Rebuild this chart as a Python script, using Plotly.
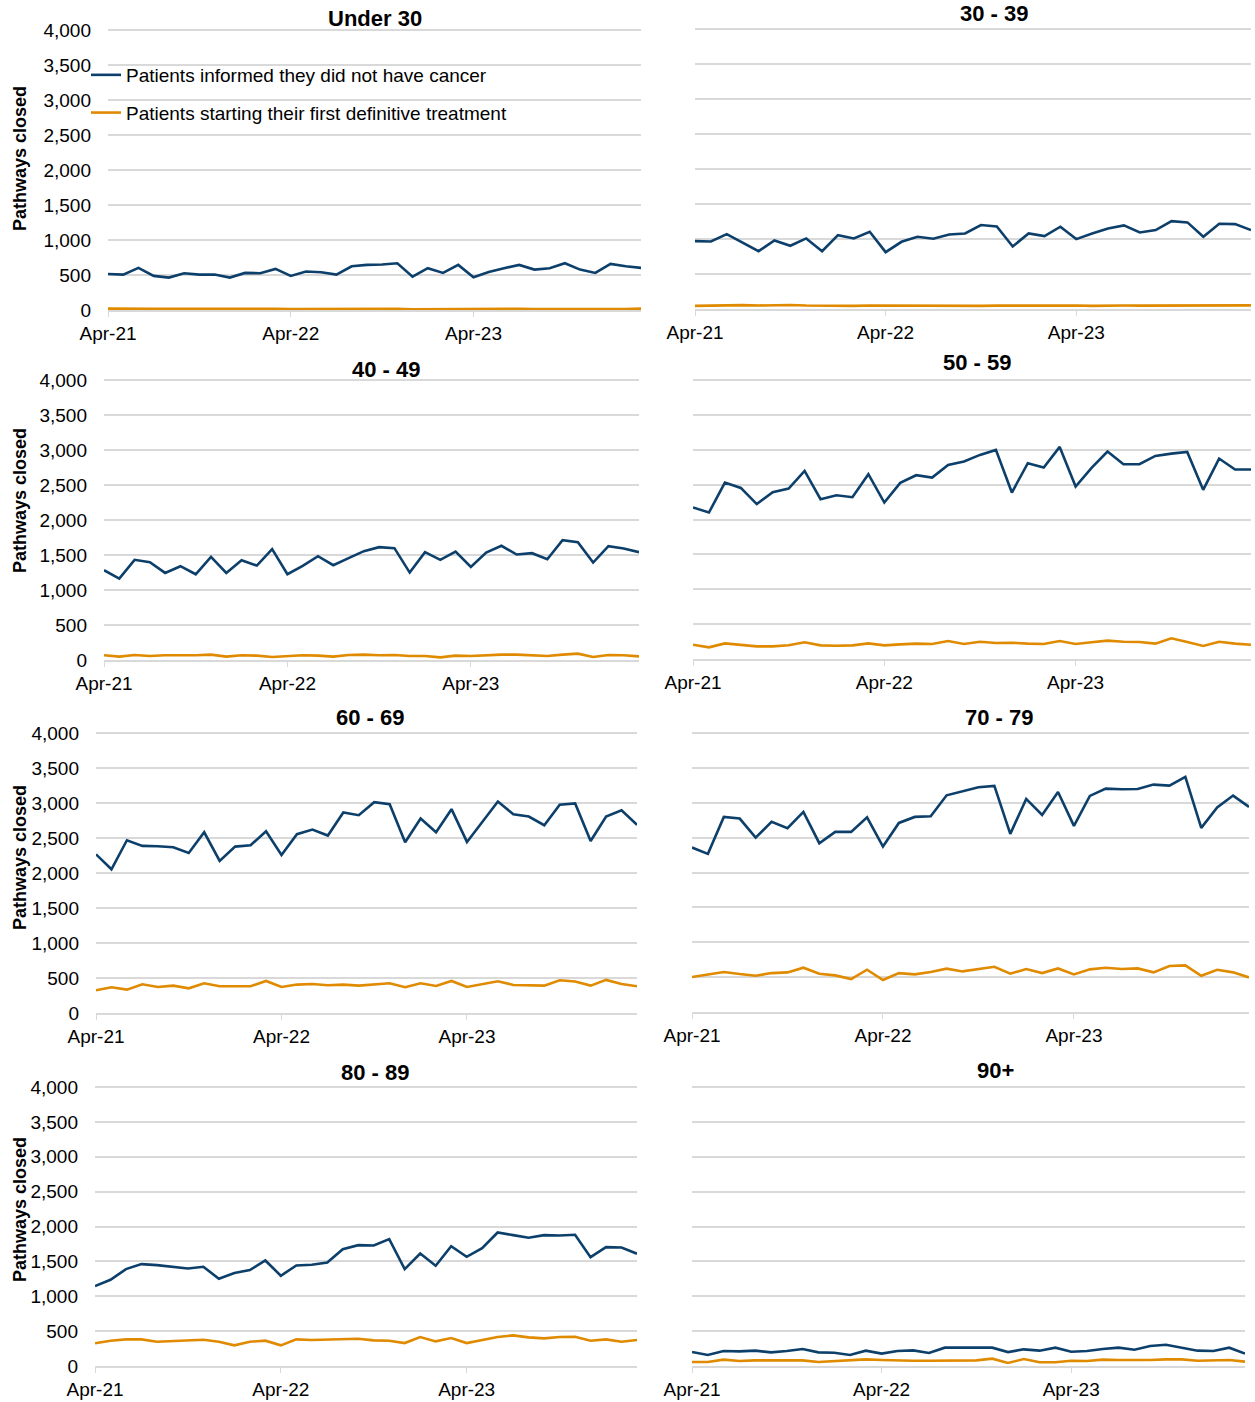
import plotly.graph_objects as go

# ---------------- data ----------------
months = ["Apr-21", "May-21", "Jun-21", "Jul-21", "Aug-21", "Sep-21", "Oct-21", "Nov-21", "Dec-21",
          "Jan-22", "Feb-22", "Mar-22", "Apr-22", "May-22", "Jun-22", "Jul-22", "Aug-22", "Sep-22",
          "Oct-22", "Nov-22", "Dec-22", "Jan-23", "Feb-23", "Mar-23", "Apr-23", "May-23", "Jun-23",
          "Jul-23", "Aug-23", "Sep-23", "Oct-23", "Nov-23", "Dec-23", "Jan-24", "Feb-24", "Mar-24"]
tick_labels = ["Apr-21", "Apr-22", "Apr-23"]
y_ticks = [0, 500, 1000, 1500, 2000, 2500, 3000, 3500, 4000]

series_names = ["Patients informed they did not have cancer",
                "Patients starting their first definitive treatment"]
age_groups = ["Under 30", "30 - 39", "40 - 49", "50 - 59", "60 - 69", "70 - 79", "80 - 89", "90+"]

no_cancer_u30 = [515, 506, 601, 487, 463, 525, 506, 506, 463, 530, 525, 587, 487, 549, 539, 506, 625, 644,
                 649, 668, 477, 597, 530, 644, 468, 544, 597, 644, 577, 597, 668, 577, 530, 659, 625, 601]
treat_u30 = [20, 22, 22, 18, 16, 17, 17, 17, 17, 16, 15, 16, 13, 14, 16, 15, 15, 16,
             17, 18, 10, 12, 15, 16, 14, 18, 19, 18, 15, 13, 16, 17, 14, 14, 15, 20]

no_cancer_30_39 = [969, 965, 1070, 945, 826, 979, 903, 1008, 826, 1055, 1008, 1103, 812, 960, 1031, 1003,
                   1065, 1079, 1199, 1180, 893, 1079, 1041, 1175, 998, 1079, 1151, 1194, 1094, 1127,
                   1256, 1237, 1031, 1218, 1213, 1127]
treat_30_39 = [45, 50, 52, 55, 50, 55, 58, 50, 45, 42, 44, 50, 48, 47, 48, 50, 50, 48,
               45, 48, 50, 48, 47, 46, 50, 44, 52, 50, 48, 50, 52, 50, 50, 50, 50, 52]

no_cancer_40_49 = [1282, 1163, 1431, 1397, 1244, 1340, 1225, 1474, 1244, 1426, 1349, 1584, 1225, 1344,
                   1483, 1354, 1455, 1555, 1612, 1598, 1249, 1541, 1431, 1550, 1330, 1536, 1632, 1507,
                   1526, 1440, 1713, 1684, 1392, 1627, 1593, 1541]
treat_40_49 = [67, 48, 72, 57, 67, 62, 67, 77, 48, 67, 62, 43, 57, 67, 62, 48, 72, 77,
               67, 72, 57, 57, 38, 62, 57, 72, 77, 77, 67, 57, 77, 91, 43, 72, 67, 52]

no_cancer_50_59 = [2172, 2100, 2530, 2453, 2220, 2391, 2444, 2697, 2291, 2348, 2320, 2649, 2243, 2525,
                   2635, 2601, 2783, 2831, 2926, 2998, 2387, 2807, 2745, 3041, 2473, 2740, 2974, 2792,
                   2792, 2912, 2945, 2969, 2425, 2874, 2716, 2716]
treat_50_59 = [205, 167, 224, 205, 181, 181, 196, 239, 196, 191, 196, 224, 196, 210, 220, 215, 258, 215,
               248, 229, 234, 220, 215, 258, 215, 239, 263, 248, 243, 220, 296, 243, 186, 248, 220, 205]

no_cancer_60_69 = [2267, 2053, 2468, 2387, 2382, 2368, 2286, 2582, 2172, 2377, 2396, 2597, 2258, 2554,
                   2621, 2535, 2864, 2826, 3012, 2983, 2439, 2778, 2582, 2912, 2444, 2740, 3021, 2840,
                   2807, 2683, 2974, 2993, 2458, 2807, 2897, 2687]
treat_60_69 = [325, 368, 334, 411, 372, 391, 353, 425, 382, 382, 382, 458, 372, 406, 415, 396, 406, 391,
               411, 425, 368, 425, 387, 458, 372, 415, 453, 401, 396, 391, 468, 449, 391, 473, 415, 382]

no_cancer_70_79 = [2358, 2267, 2797, 2773, 2501, 2726, 2635, 2869, 2420, 2582, 2582, 2792, 2372, 2711,
                   2797, 2807, 3107, 3160, 3222, 3241, 2554, 3055, 2826, 3155, 2668, 3098, 3203, 3193,
                   3198, 3260, 3246, 3370, 2640, 2931, 3103, 2940]
treat_70_79 = [501, 539, 573, 544, 520, 558, 568, 635, 549, 525, 473, 606, 458, 558, 539, 573, 621, 582,
               611, 649, 549, 616, 558, 625, 539, 611, 635, 616, 625, 568, 659, 668, 520, 606, 568, 496]

no_cancer_80_89 = [1146, 1236, 1389, 1461, 1446, 1427, 1399, 1422, 1251, 1332, 1375, 1513, 1294, 1442,
                   1451, 1485, 1675, 1733, 1728, 1819, 1389, 1613, 1437, 1718, 1566, 1690, 1914, 1876,
                   1838, 1876, 1871, 1881, 1561, 1704, 1699, 1609]
treat_80_89 = [325, 363, 382, 382, 348, 358, 358, 377, 348, 296, 348, 363, 296, 382, 372, 377, 377, 391,
               368, 363, 329, 415, 353, 401, 329, 377, 415, 439, 410, 396, 415, 420, 363, 382, 348, 372]

no_cancer_90 = [200, 158, 215, 210, 220, 196, 215, 243, 196, 191, 158, 220, 177, 215, 224, 186, 263, 263,
                258, 263, 200, 239, 220, 263, 205, 215, 243, 263, 234, 286, 305, 267, 220, 215, 263, 177]
treat_90 = [57, 57, 91, 72, 81, 81, 76, 81, 57, 67, 81, 95, 86, 76, 76, 76, 81, 86,
            81, 105, 43, 100, 53, 53, 76, 72, 91, 86, 81, 86, 95, 95, 76, 81, 86, 62]

no_cancer = [no_cancer_u30, no_cancer_30_39, no_cancer_40_49, no_cancer_50_59,
             no_cancer_60_69, no_cancer_70_79, no_cancer_80_89, no_cancer_90]
treatment = [treat_u30, treat_30_39, treat_40_49, treat_50_59,
             treat_60_69, treat_70_79, treat_80_89, treat_90]

# ---------------- layout constants (pixels) ----------------
W, H = 1255, 1402
# plot areas: (x_left, x_right, y_top, y_bottom)
panels = [
    (108, 641, 30, 310), (695, 1251, 29, 309),
    (104, 639, 380, 660), (693, 1251, 380, 659),
    (96, 637, 733, 1013), (692, 1249, 733, 1012),
    (95, 637, 1087, 1366), (692, 1245, 1087, 1366),
]
title_pos = [(375, 18), (994, 14), (386, 370), (977, 363),
             (370, 717), (999, 717), (375, 1072), (995, 1070)]
ytitle_pos = [(20, 159), (20, 501), (20, 858), (20, 1210)]

BLUE = "#0d3f6b"
ORANGE = "#e08a00"
GRID = "#d9d9d9"
FONT = "Liberation Sans, Arial, sans-serif"
Y_TOP = 4040  # small headroom so the 4,000 gridline is drawn (plotly drops grid lines at the very edge)

fig = go.Figure()
layout_axes = {}
annotations = []

for k in range(8):
    n = k + 1
    xa = "x" if n == 1 else f"x{n}"
    ya = "y" if n == 1 else f"y{n}"
    xl, xr, yt, yb = panels[k]
    yt_adj = yt - (Y_TOP - 4000) / 4000 * (yb - yt)
    fig.add_trace(go.Scatter(x=months, y=no_cancer[k], mode="lines", name=series_names[0],
                             line=dict(color=BLUE, width=2.6), xaxis=xa, yaxis=ya,
                             legendgroup="a", showlegend=(k == 0)))
    fig.add_trace(go.Scatter(x=months, y=treatment[k], mode="lines", name=series_names[1],
                             line=dict(color=ORANGE, width=2.6), xaxis=xa, yaxis=ya,
                             legendgroup="b", showlegend=(k == 0)))
    layout_axes["xaxis" if n == 1 else f"xaxis{n}"] = dict(
        domain=[xl / W, xr / W], anchor=ya, type="category",
        categoryorder="array", categoryarray=months,
        range=[0, len(months) - 1], tickmode="array", tickvals=tick_labels, ticktext=tick_labels,
        showgrid=False, showline=True, linecolor=GRID, linewidth=1.5,
        ticks="outside", ticklen=5, tickcolor=GRID, tickwidth=1,
        tickfont=dict(family=FONT, size=19, color="#000000"), ticklabelstandoff=0,
        zeroline=False, fixedrange=True, automargin=False,
    )
    layout_axes["yaxis" if n == 1 else f"yaxis{n}"] = dict(
        domain=[1 - yb / H, 1 - yt_adj / H], anchor=xa, range=[0, Y_TOP],
        tickmode="array", tickvals=y_ticks, tickformat=",d",
        showgrid=True, gridcolor=GRID, gridwidth=1.5, zeroline=False, showline=False,
        showticklabels=(k % 2 == 0), ticks="",
        tickfont=dict(family=FONT, size=19, color="#000000"), ticklabelstandoff=16,
        fixedrange=True, automargin=False,
    )
    tx, ty = title_pos[k]
    annotations.append(dict(text=f"<b>{age_groups[k]}</b>", x=tx / W, y=1 - ty / H,
                            xref="paper", yref="paper", xanchor="center", yanchor="middle",
                            showarrow=False, font=dict(family=FONT, size=22, color="#000000")))

for (px, py) in ytitle_pos:
    annotations.append(dict(text="<b>Pathways closed</b>", x=px / W, y=1 - py / H,
                            xref="paper", yref="paper", xanchor="center", yanchor="middle",
                            textangle=-90, showarrow=False,
                            font=dict(family=FONT, size=18, color="#000000")))

fig.update_layout(
    template="none",
    width=W, height=H, margin=dict(l=0, r=0, t=0, b=0, autoexpand=False),
    paper_bgcolor="white", plot_bgcolor="white",
    font=dict(family=FONT, size=19, color="#000000"),
    showlegend=True,
    legend=dict(x=86 / W, y=1 - 56 / H, xanchor="left", yanchor="top",
                bgcolor="rgba(0,0,0,0)", borderwidth=0, tracegroupgap=10,
                font=dict(family=FONT, size=19, color="#000000"), itemwidth=30),
    annotations=annotations,
    **layout_axes,
)

fig.write_html("out.html", config={"displayModeBar": False},
               post_script="document.body.style.margin='0px';document.body.style.padding='0px';")
